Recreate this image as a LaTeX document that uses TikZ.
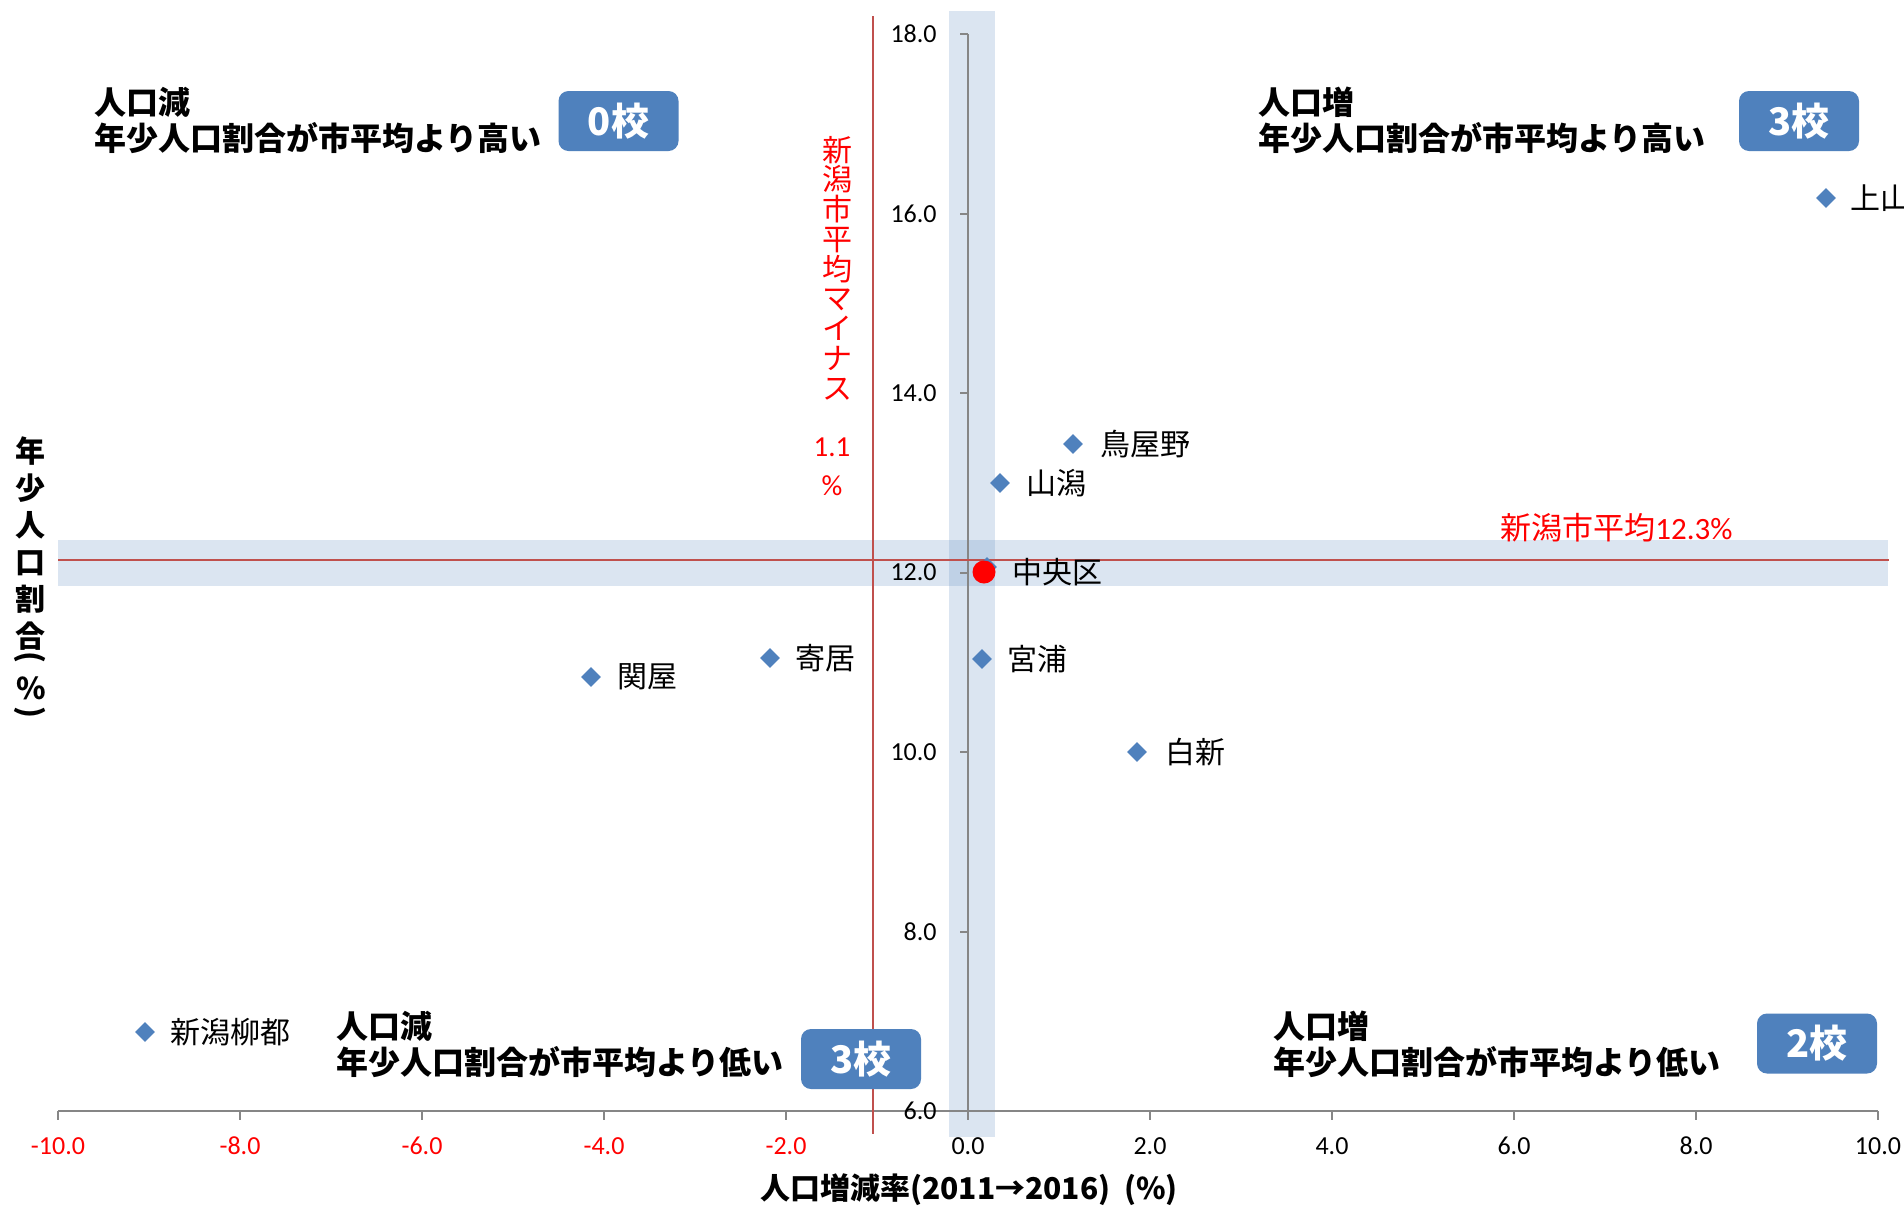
\documentclass[tikz,border=0pt]{standalone}
\usepackage{fontspec}
\setmainfont{Carlito}
\newfontfamily\jp{Noto Sans CJK JP}
\usetikzlibrary{shapes.geometric}
\definecolor{mkblue}{HTML}{4F81BD}
\definecolor{axgray}{HTML}{868686}
\definecolor{avgred}{HTML}{C0504D}
\definecolor{txtred}{HTML}{FF0000}
\begin{document}
\begin{tikzpicture}[x=0.5pt,y=-0.5pt,
  band/.style={fill=mkblue, fill opacity=0.2, draw=none},
  axisline/.style={draw=axgray, line width=1pt},
  avgline/.style={draw=avgred, line width=1pt},
  ticklbl/.style={font=\fontsize{13}{15}\selectfont, inner sep=0pt},
  datapt/.style={diamond, fill=mkblue, draw=none, inner sep=0pt, minimum width=10pt, minimum height=10pt},
  datalbl/.style={font=\jp\fontsize{15}{18}\selectfont, anchor=west, inner sep=0pt},
  quad/.style={font=\jp\bfseries\fontsize{16}{18}\selectfont, align=left, anchor=west, inner sep=0pt},
  countbox/.style={fill=mkblue, draw=none, rounded corners=5pt, minimum width=60pt, minimum height=30pt, inner sep=0pt, text=white, font=\jp\bfseries\fontsize{19}{22}\selectfont},
  ytit/.style={font=\jp\bfseries\fontsize{15}{18.5}\selectfont, inner sep=0pt},
]
\useasboundingbox (0,0) rectangle (1904,1206);
\clip (0,0) rectangle (1904,1206);
\fill[white] (0,0) rectangle (1904,1206);

% shaded bands
\fill[band] (949,11) rectangle (995,1137);
\fill[band] (58,540) rectangle (1888,586);

% axes
\coordinate (yaxtop) at (968,34);
\coordinate (origin) at (968,1111);
\coordinate (xaxl) at (58,1111);
\coordinate (xaxr) at (1878,1111);
\draw[axisline] (yaxtop) -- (origin);
\draw[axisline] (xaxl) -- (xaxr);
\foreach \yy in {34,213.5,393,572.5,752,931.5,1111}
  \draw[axisline] (960,\yy) -- (968,\yy);
\foreach \xx in {58,240,422,604,786,968,1150,1332,1514,1696,1878}
  \draw[axisline] (\xx,1111) -- (\xx,1120);

% y tick labels
\foreach \v/\yy in {18.0/34,16.0/213.5,14.0/393,12.0/572.5,10.0/752,8.0/931.5,6.0/1111}
  \node[ticklbl, anchor=east] at (937,\yy) {\v};
% x tick labels
\foreach \v/\xx/\c in {-10.0/58/txtred,-8.0/240/txtred,-6.0/422/txtred,-4.0/604/txtred,-2.0/786/txtred,0.0/968/black,2.0/1150/black,4.0/1332/black,6.0/1514/black,8.0/1696/black,10.0/1878/black}
  \node[ticklbl, text=\c] at (\xx,1146) {\v};

% average lines
\coordinate (vtop) at (873,16);
\coordinate (vbot) at (873,1134);
\coordinate (hleft) at (58,560);
\coordinate (hright) at (1889,560);
\draw[avgline] (vtop) -- (vbot);
\draw[avgline] (hleft) -- (hright);

% average labels
\node[font=\jp\fontsize{15}{14.875}\selectfont, text=txtred, align=center, inner sep=0pt] (vavg) at (837,268)
  {新\\潟\\市\\平\\均\\マ\\イ\\ナ\\ス};
\node[font=\fontsize{14.5}{19.5}\selectfont, text=txtred, align=center, inner sep=0pt] (vavgnum) at (832,467) {1.1\\\%};
\node[font=\fontsize{15.5}{18}\selectfont, text=txtred, anchor=west, inner sep=0pt] (havg) at (1500,528) {{\jp 新潟市平均}12.3\%};

% quadrant texts
\node[quad] (qtl) at (94,120.5) {人口減\\年少人口割合が市平均より高い};
\node[quad] (qtr) at (1258,120.5) {人口増\\年少人口割合が市平均より高い};
\node[quad] (qbl) at (336,1044.5) {人口減\\年少人口割合が市平均より低い};
\node[quad] (qbr) at (1273,1044.5) {人口増\\年少人口割合が市平均より低い};

% count boxes
\node[countbox] (ctl) at (618.5,121) {0校};
\node[countbox] (ctr) at (1799,121) {3校};
\node[countbox] (cbl) at (861,1059) {3校};
\node[countbox] (cbr) at (1817,1043.5) {2校};

% data points
\node[datapt] (p1) at (1826,198) {};
\node[datalbl] (l1) at (1850,198) {上山};
\node[datapt] (p2) at (1073,444) {};
\node[datalbl] (l2) at (1100,444) {鳥屋野};
\node[datapt] (p3) at (1000,483) {};
\node[datalbl] (l3) at (1026,483) {山潟};
\node[datapt] (p4) at (987,567) {};
\fill[txtred] (984,572) circle (5.75pt);
\node[datalbl] (l4) at (1012,572) {中央区};
\node[datapt] (p5) at (982,659) {};
\node[datalbl] (l5) at (1007,659) {宮浦};
\node[datapt] (p6) at (1137,752) {};
\node[datalbl] (l6) at (1165,752) {白新};
\node[datapt] (p7) at (770,658) {};
\node[datalbl] (l7) at (795,658) {寄居};
\node[datapt] (p8) at (591,677) {};
\node[datalbl] (l8) at (617,677) {関屋};
\node[datapt] (p9) at (145,1032) {};
\node[datalbl] (l9) at (170,1032) {新潟柳都};

% axis titles
\node[font=\jp\bfseries\fontsize{15}{18}\selectfont, inner sep=0pt] (xtitle) at (969,1190) {人口増減率(2011→2016)~~(\%)};
\node[ytit, align=center] (ytitle) at (30,544) {年\\少\\人\\口\\割\\合};
\node[ytit, rotate=-90] (yparl) at (30,657) {(};
\node[ytit] (ypct) at (31,688.5) {\%};
\node[ytit, rotate=-90] (yparr) at (30,712) {)};
\end{tikzpicture}
\end{document}
